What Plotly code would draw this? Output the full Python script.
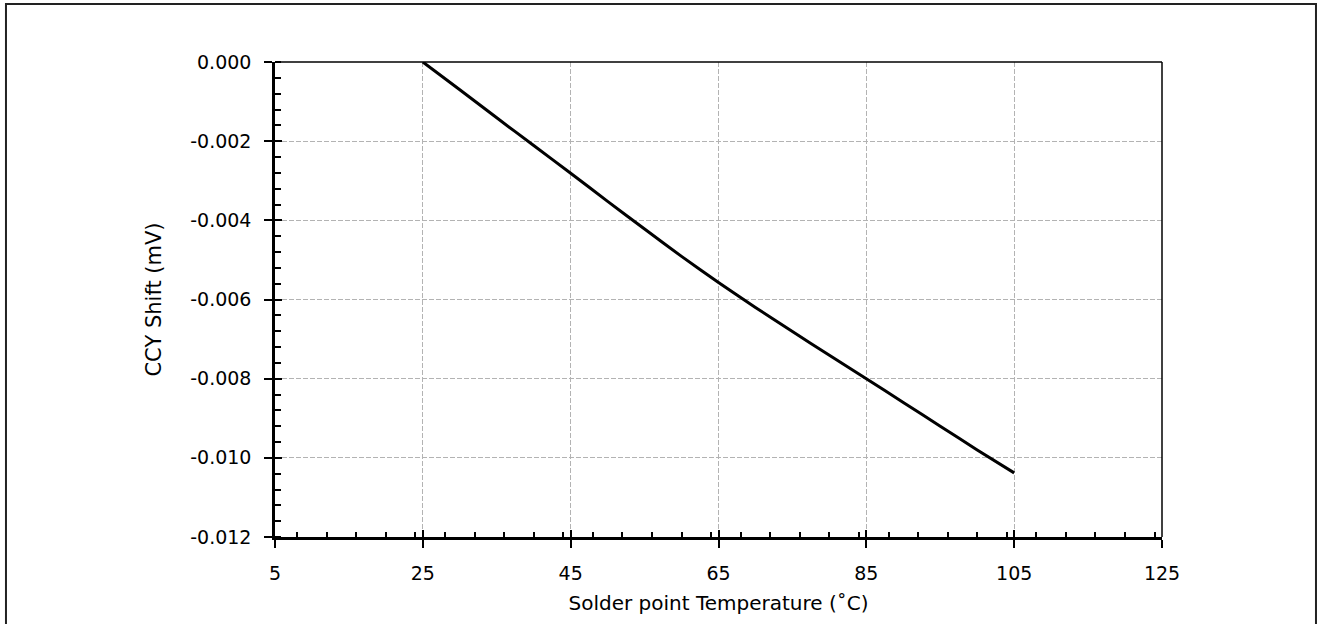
import plotly.graph_objects as go

temperature = [25, 30, 35, 40, 45, 50, 55, 60, 65, 70, 75, 80, 85, 90, 95, 100, 105]
ccy_shift = [0.0, -0.00070, -0.00141, -0.00211, -0.00281, -0.00352, -0.00422, -0.00491,
             -0.00557, -0.00620, -0.00681, -0.00741, -0.00800, -0.00860, -0.00920,
             -0.00980, -0.01038]

x_ticks = [5, 25, 45, 65, 85, 105, 125]
y_ticks = [0.0, -0.002, -0.004, -0.006, -0.008, -0.010, -0.012]
y_labels = ["0.000", "-0.002", "-0.004", "-0.006", "-0.008", "-0.010", "-0.012"]

FONT = "DejaVu Sans"

fig = go.Figure()
fig.add_trace(go.Scatter(x=temperature, y=ccy_shift, mode="lines",
                         line=dict(color="black", width=3, shape="spline", smoothing=0.6),
                         showlegend=False, hoverinfo="skip"))
# invisible trace to create overlay axes for inner major ticks
fig.add_trace(go.Scatter(x=[temperature[0]], y=[ccy_shift[0]], xaxis="x2", yaxis="y2",
                         mode="markers", marker=dict(opacity=0), showlegend=False,
                         hoverinfo="skip"))

grid = dict(showgrid=True, gridcolor="#b3b3b3", griddash="5px,2px", gridwidth=1)

fig.update_layout(
    width=1321, height=624,
    margin=dict(l=275, r=159, t=62, b=87),
    paper_bgcolor="white", plot_bgcolor="white",
    font=dict(family=FONT, size=19, color="black"),
    xaxis=dict(range=[5, 125], tickvals=x_ticks, ticktext=[str(v) for v in x_ticks],
               ticks="outside", ticklen=8, tickwidth=2, tickcolor="black",
               showline=True, linecolor="black", linewidth=2.5, mirror=False,
               zeroline=False, ticklabelstandoff=9,
               minor=dict(dtick=4, ticks="inside", ticklen=5, tickwidth=1.5,
                          tickcolor="black", showgrid=False),
               title=dict(text="Solder point Temperature (˚C)", standoff=14,
                          font=dict(family=FONT, size=20)),
               tickfont=dict(family=FONT, size=19), **grid),
    yaxis=dict(range=[-0.012, 0.0], tickvals=y_ticks, ticktext=y_labels,
               ticks="outside", ticklen=8, tickwidth=2, tickcolor="black",
               showline=True, linecolor="black", linewidth=2.5, mirror=False,
               zeroline=False, ticklabelstandoff=9,
               minor=dict(dtick=0.0004, ticks="inside", ticklen=6, tickwidth=1.5,
                          tickcolor="black", showgrid=False),
               title=dict(text="CCY Shift (mV)", standoff=23,
                          font=dict(family=FONT, size=21)),
               tickfont=dict(family=FONT, size=19), **grid),
    xaxis2=dict(overlaying="x", matches="x", anchor="y2", side="bottom",
                tickvals=x_ticks, ticks="inside", ticklen=7, tickwidth=2,
                tickcolor="black", showticklabels=False, showgrid=False,
                showline=False, zeroline=False),
    yaxis2=dict(overlaying="y", matches="y", anchor="x2", side="left",
                tickvals=y_ticks, ticks="inside", ticklen=7, tickwidth=2,
                tickcolor="black", showticklabels=False, showgrid=False,
                showline=False, zeroline=False),
)

# thin top and right plot borders
fig.add_shape(type="line", xref="paper", yref="paper", x0=0, x1=1, y0=1, y1=1,
              line=dict(color="black", width=1.5))
fig.add_shape(type="line", xref="paper", yref="paper", x0=1, x1=1, y0=0, y1=1,
              line=dict(color="black", width=1.5))

# outer frame (left, top, right edges)
fig.add_shape(type="path", xref="paper", yref="paper",
              path="M -0.3033,-0.25 L -0.3033,1.1221 L 1.1736,1.1221 L 1.1736,-0.25",
              line=dict(color="#222222", width=2))

fig.write_html("out.html", config={"displayModeBar": False},
               post_script="document.body.style.margin='0';document.body.style.overflow='hidden';")
